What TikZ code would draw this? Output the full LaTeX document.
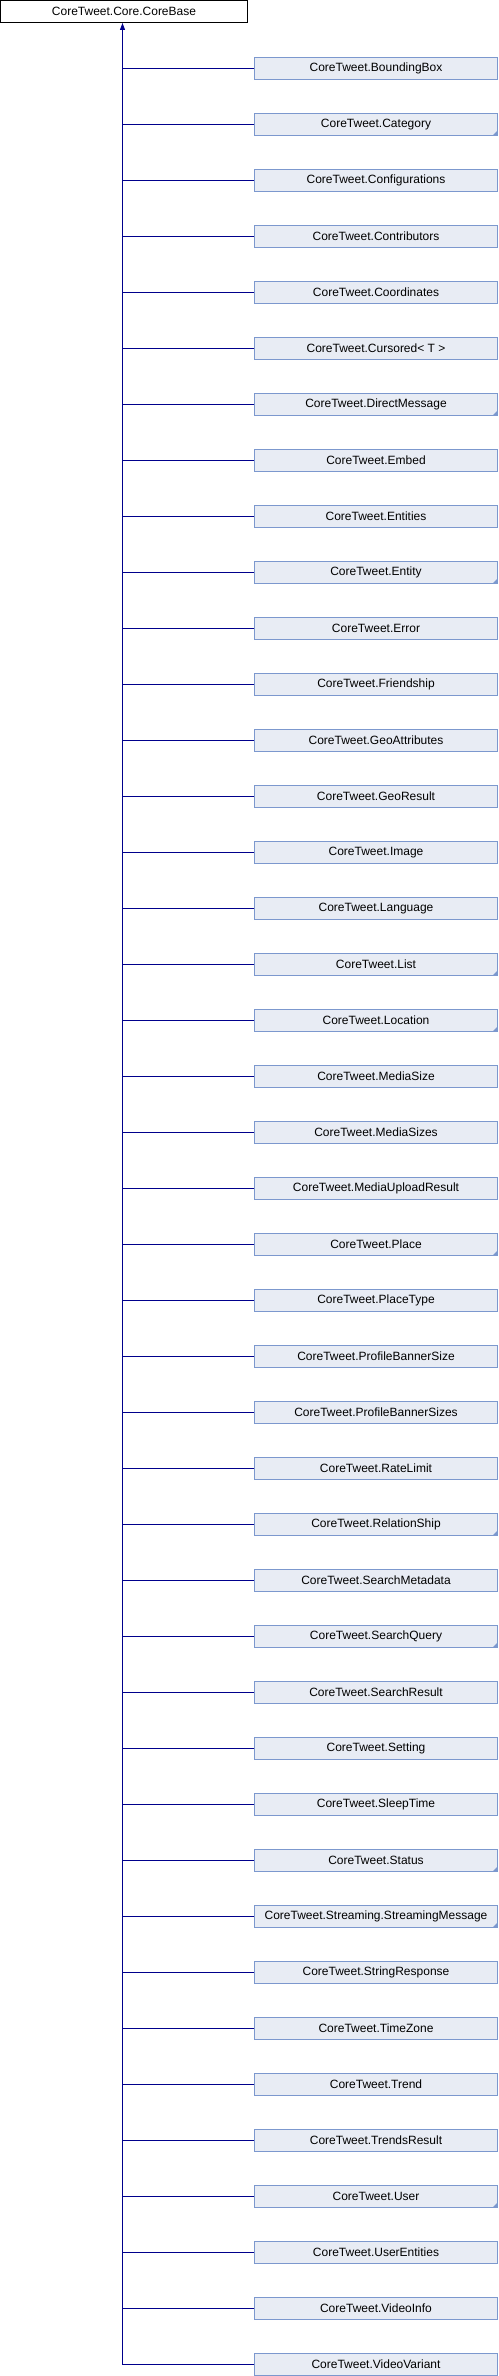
\documentclass[tikz,border=0pt]{standalone}
\usepackage{fontspec}
\setmainfont{Liberation Sans}
\usepackage{xcolor}
\usetikzlibrary{arrows.meta}

\definecolor{boxfill}{RGB}{232,236,244}
\definecolor{boxedge}{RGB}{124,152,206}
\definecolor{edgeline}{RGB}{0,0,140}

\begin{document}
\begin{tikzpicture}[x=1pt, y=-1pt,
  basebox/.style={draw=black, fill=white, line width=1pt, inner sep=0pt,
    minimum width=247pt, minimum height=22pt, font=\fontsize{12}{14}\selectfont},
  classbox/.style={draw=boxedge, fill=boxfill, line width=1pt, inner sep=0pt,
    minimum width=243pt, minimum height=22pt, font=\fontsize{12}{14}\selectfont},
  truncbox/.style={classbox, path picture={
    \fill[boxedge] (path picture bounding box.south east) -- ++(-5pt,0pt) -- ++(5pt,5pt) -- cycle;}},
  inherit/.style={draw=edgeline, line width=1pt}]

  \useasboundingbox (0,0) rectangle (498,2376);

  % Base class
  \node[basebox] (base) at (124,11.5) {CoreTweet.Core.CoreBase};
  \coordinate (trunk) at (122.5,23);

  % Derived classes and their links to the trunk
  \foreach \name/\kind [count=\n] in {BoundingBox/classbox, Category/truncbox,
      Configurations/classbox, Contributors/classbox, Coordinates/classbox,
      Cursored< T >/classbox, DirectMessage/truncbox, Embed/classbox,
      Entities/classbox, Entity/truncbox, Error/classbox, Friendship/classbox,
      GeoAttributes/classbox, GeoResult/classbox, Image/classbox,
      Language/classbox, List/truncbox, Location/truncbox, MediaSize/classbox,
      MediaSizes/classbox, MediaUploadResult/classbox, Place/truncbox,
      PlaceType/classbox, ProfileBannerSize/classbox, ProfileBannerSizes/classbox,
      RateLimit/classbox, RelationShip/truncbox, SearchMetadata/classbox,
      SearchQuery/truncbox, SearchResult/classbox, Setting/classbox,
      SleepTime/classbox, Status/truncbox, Streaming.StreamingMessage/truncbox,
      StringResponse/classbox, TimeZone/classbox, Trend/classbox,
      TrendsResult/classbox, User/truncbox, UserEntities/classbox,
      VideoInfo/classbox, VideoVariant/classbox} {
    \node[\kind] (c\n) at (376,{68.5+56*(\n-1)}) {CoreTweet.\name};
    \draw[inherit] (c\n.west) -- (c\n.west -| trunk);
  }

  % Trunk with the inheritance arrow
  \draw[inherit, -{Triangle[width=5pt,length=7pt]}] (c42.west -| trunk) -- (trunk);

\end{tikzpicture}
\end{document}
